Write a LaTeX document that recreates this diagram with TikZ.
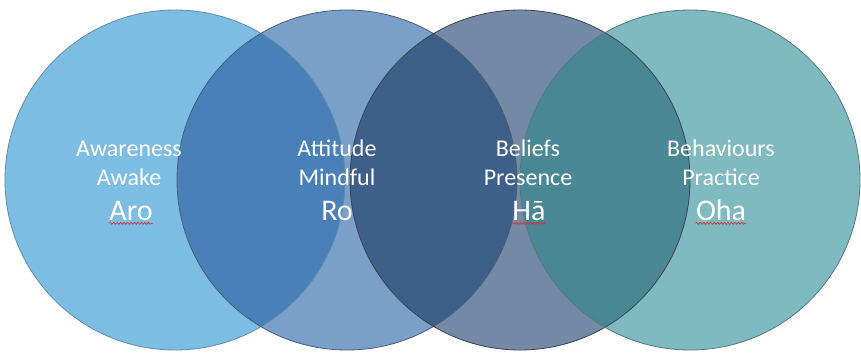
\documentclass[tikz,border=0pt]{standalone}
\usepackage{fontspec}
\usepackage{tikz}
\usetikzlibrary{decorations.pathmorphing}
\newfontfamily\labelfont{Carlito}
\definecolor{aroFill}{HTML}{7DBDE3}
\definecolor{roFill}{HTML}{7A9FC9}
\definecolor{haFill}{HTML}{7389A5}
\definecolor{ohaFill}{HTML}{7EBAC0}
\definecolor{aroRo}{HTML}{4A80B8}
\definecolor{roHa}{HTML}{3D5F88}
\definecolor{haOha}{HTML}{4A8795}
\definecolor{spellRed}{HTML}{D03030}
\tikzset{
  ringline/.style={draw=#1, line width=0.6pt},
  wordline/.style={anchor=base, inner sep=0pt, text=white,
    font=\labelfont\fontsize{18}{20}\selectfont},
  maoriword/.style={anchor=base, inner sep=0pt, text=white,
    font=\labelfont\fontsize{22.5}{24}\selectfont},
  wavy/.style={spellRed, line width=0.5pt, decorate,
    decoration={snake, amplitude=0.7pt, segment length=2.6pt}}
}
\newcommand{\ringA}{(175,180) circle [radius=170]}
\newcommand{\ringB}{(347,180) circle [radius=170]}
\newcommand{\ringC}{(520,180) circle [radius=170]}
\newcommand{\ringD}{(690,180) circle [radius=170]}

\begin{document}
\begin{tikzpicture}[x=0.75pt, y=-0.75pt]
\useasboundingbox[fill=white] (0,0) rectangle (861,354);

% plain discs
\fill[aroFill] \ringA;
\fill[roFill] \ringB;
\fill[haFill] \ringC;
\fill[ohaFill] \ringD;

% overlaps
\begin{scope}
  \clip \ringA;
  \fill[aroRo] \ringB;
\end{scope}
\begin{scope}
  \clip \ringB;
  \fill[roHa] \ringC;
\end{scope}
\begin{scope}
  \clip \ringC;
  \fill[haOha] \ringD;
\end{scope}

% outlines
\draw[ringline=aroFill!75!black] \ringA;
\draw[ringline=roFill!60!black] \ringB;
\draw[ringline=haFill!50!black] \ringC;
\draw[ringline=ohaFill!65!black] \ringD;

% labels
\node[wordline] (awareness) at (129,156) {Awareness};
\node[wordline] (awake) at (129,185) {Awake};
\node[maoriword] (aro) at (131,220) {Aro};

\node[wordline] (attitude) at (337,156) {Attitude};
\node[wordline] (mindful) at (337,185) {Mindful};
\node[maoriword] (ro) at (337,220) {Ro};

\node[wordline] (beliefs) at (528,156) {Beliefs};
\node[wordline] (presence) at (528,185) {Presence};
\node[maoriword] (ha) at (529,220) {Hā};

\node[wordline] (behaviours) at (721,156) {Behaviours};
\node[wordline] (practice) at (721,185) {Practice};
\node[maoriword] (oha) at (721,220) {Oha};

% spelling marks
\draw[wavy] ([yshift=-2.5pt]aro.base west) -- ([yshift=-2.5pt]aro.base east);
\draw[wavy] ([yshift=-2.5pt]ha.base west) -- ([yshift=-2.5pt]ha.base east);
\draw[wavy] ([yshift=-2.5pt]oha.base west) -- ([yshift=-2.5pt]oha.base east);

\end{tikzpicture}
\end{document}
